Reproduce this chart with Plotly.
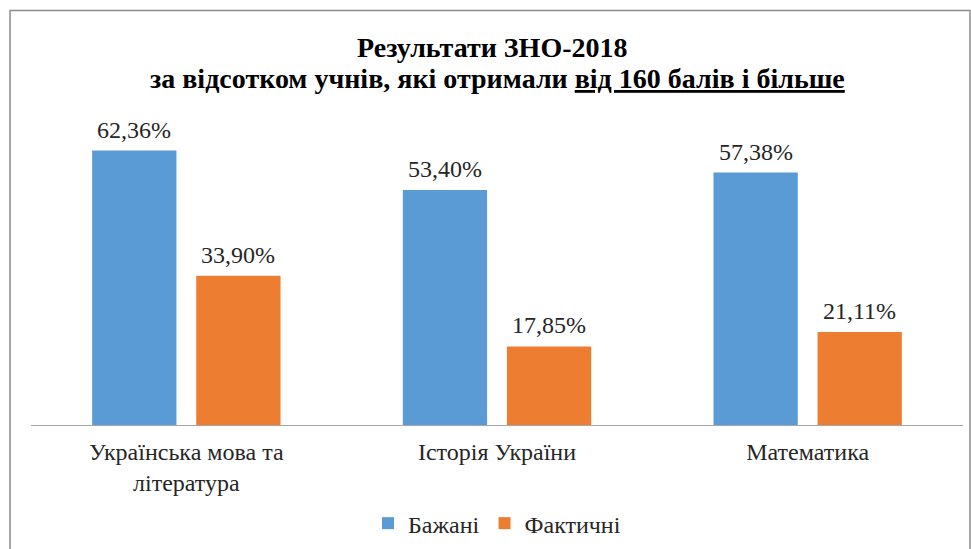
import plotly.graph_objects as go

categories = ["Українська мова та<br>література", "Історія України", "Математика"]
series_names = ["Бажані", "Фактичні"]
desired = [62.36, 53.40, 57.38]
actual = [33.90, 17.85, 21.11]
colors = ["#5B9BD5", "#ED7D31"]
title_lines = ["<b>Результати ЗНО-2018</b>",
               "<b>за відсотком учнів, які отримали <u>від 160 балів і більше</u></b>"]

font_family = "Liberation Serif"
text_color = "#262626"

fig = go.Figure()
for name, vals, col in zip(series_names, [desired, actual], colors):
    fig.add_trace(go.Bar(
        x=categories, y=vals, name=name, marker=dict(color=col, line=dict(width=0)),
    ))

# value labels above the bars (annotations, anchored to data values)
annotations = []
for vals, shift in zip([desired, actual], [-52, 52]):
    for cat, v in zip(categories, vals):
        annotations.append(dict(
            x=cat, y=v, xref="x", yref="y", xshift=shift, yshift=6,
            text=f"{v:.2f}%".replace(".", ","), showarrow=False,
            yanchor="bottom", xanchor="center",
            font=dict(family=font_family, size=24, color=text_color),
        ))

# two-line title
for line, ypos, xs in zip(title_lines, [1.226, 1.125], [-5, 0]):
    annotations.append(dict(
        x=0.5, y=ypos, xref="paper", yref="paper", xshift=xs,
        text=line, showarrow=False, xanchor="center", yanchor="middle",
        font=dict(family=font_family, size=28, color="black"),
    ))

fig.update_layout(
    width=971, height=549,
    margin=dict(l=31, r=8, t=117, b=124, autoexpand=False),
    paper_bgcolor="white", plot_bgcolor="white",
    barmode="group", bargap=0.33, bargroupgap=0.19,
    font=dict(family=font_family, size=24, color=text_color),
    xaxis=dict(showline=True, linecolor="#a6a6a6", linewidth=1, ticks="",
               tickfont=dict(family=font_family, size=24, color=text_color),
               ticklabelstandoff=5,
               showgrid=False, automargin=False),
    yaxis=dict(range=[0, 70], visible=False, showgrid=False, zeroline=False,
               automargin=False),
    legend=dict(orientation="h", x=0.5, xanchor="center", y=-0.247, yanchor="top",
                font=dict(family=font_family, size=24, color=text_color),
                traceorder="normal"),
    showlegend=True,
    annotations=annotations,
    shapes=[dict(type="rect", xref="paper", yref="paper",
                 x0=-0.0225, x1=1.0075, y0=-0.45, y1=1.346,
                 line=dict(color="#8c8c8c", width=1.5), fillcolor="rgba(0,0,0,0)", layer="above")],
)

fig.write_html(
    "out.html",
    config={"displayModeBar": False},
    post_script="document.body.style.margin='0';document.body.style.overflow='hidden';",
)
